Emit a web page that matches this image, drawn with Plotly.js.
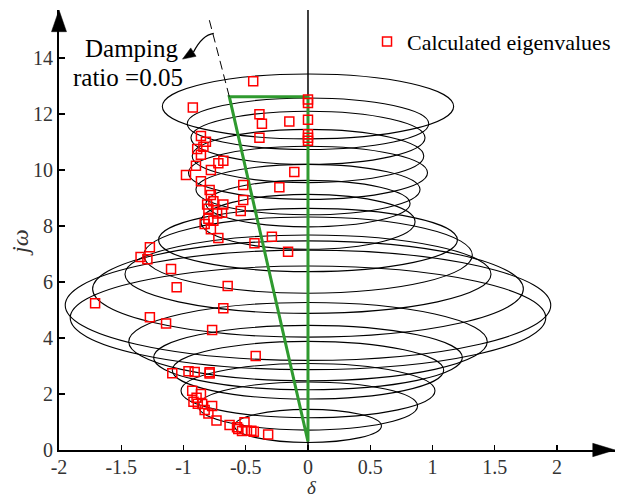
<!DOCTYPE html>
<html>
<head>
<meta charset="utf-8">
<script src="https://cdn.plot.ly/plotly-3.0.1.min.js"></script>
<style>html,body{margin:0;padding:0;background:#fff;}#chart{width:629px;height:501px;}</style>
</head>
<body>
<div id="chart"></div>
<script>
// ---- Data ----
// Calculated eigenvalues (real part delta, imaginary part j-omega)
const EIG_DELTA = [
  -0.44, -0.925, 0, 0, -0.39, -0.37, -0.15, 0, -0.39, 0, 0, 0,
  -0.86, -0.82, -0.84, -0.89, -0.86, -0.72, -0.68, -0.90, -0.78, -0.98, -0.11, -0.86, -0.52, -0.23,
  -0.79, -0.78, -0.52, -0.76, -0.81, -0.68, -0.80, -0.54, -0.69, -0.73, -0.80, -0.76, -0.83, -0.78, -0.72,
  -0.29, -0.43, -0.16, -1.27, -1.345, -1.29, -1.10, -1.055, -0.645, -1.71, -0.68, -1.27, -1.14, -0.77, -0.42,
  -1.09, -0.96, -0.91, -0.79, -0.79, -0.93, -0.86, -0.895, -0.92, -0.885, -0.85, -0.77, -0.83, -0.80,
  -0.735, -0.63, -0.57, -0.56, -0.51, -0.53, -0.49, -0.455, -0.435, -0.32
];
const EIG_OMEGA = [
  13.17, 12.23, 12.52, 12.39, 11.99, 11.65, 11.73, 11.79, 11.15, 11.28, 11.15, 11.04,
  11.21, 11.01, 10.83, 10.75, 10.54, 10.24, 10.33, 10.15, 10.00, 9.82, 9.93, 9.60, 9.46, 9.38,
  9.29, 9.11, 8.93, 8.88, 8.77, 8.77, 8.62, 8.54, 8.47, 8.45, 8.26, 8.19, 8.07, 7.88, 7.57,
  7.62, 7.38, 7.08, 7.24, 6.89, 6.81, 6.46, 5.81, 5.86, 5.24, 5.06, 4.74, 4.52, 4.29, 3.36,
  2.74, 2.81, 2.79, 2.78, 2.73, 2.12, 2.00, 1.87, 1.72, 1.65, 1.64, 1.57, 1.43, 1.30,
  1.05, 0.89, 0.81, 0.75, 0.99, 0.68, 0.69, 0.69, 0.65, 0.55
];

// Uncertainty ellipses: centre on the j-omega axis, half-width (delta), half-height (omega)
const ELL_CENTER = [0.86, 1.57, 2.12, 2.85, 3.30, 3.87, 4.72, 5.17, 5.75, 6.28, 6.96, 7.50, 8.15, 8.80, 9.30, 9.90, 10.50, 11.15, 11.65, 12.27];
const ELL_HALF_X = [0.59, 0.88, 1.02, 1.09, 1.24, 1.44, 1.91, 1.95, 1.73, 1.47, 1.32, 1.20, 0.86, 0.82, 0.90, 0.96, 0.93, 0.94, 0.97, 1.17];
const ELL_HALF_Y = [0.59, 0.86, 0.97, 1.03, 1.15, 1.40, 1.85, 1.97, 1.72, 1.40, 1.36, 1.13, 0.98, 0.83, 0.90, 0.95, 0.95, 0.95, 0.92, 1.16];

// Damping-ratio region (green) and its dashed extension
const DAMPING_X = [0, -0.632, 0, 0];
const DAMPING_Y = [0.3, 12.62, 12.62, 0.3];
const DASH_X = [-0.632, -0.80];
const DASH_Y = [12.62, 15.48];

// Axes
const X_RANGE = [-2, 2.466];
const Y_RANGE = [0, 15.714];
const X_TICKS = [-2, -1.5, -1, -0.5, 0, 0.5, 1, 1.5, 2];
const X_TICK_TEXT = ['-2', '-1.5', '-1', '-0.5', '0', '0.5', '1', '1.5', '2'];
const Y_TICKS = [0, 2, 4, 6, 8, 10, 12, 14];
const Y_TICK_TEXT = ['0', '2', '4', '6', '8', '10', '12', '14'];

// ---- Build figure ----
const SERIF = 'Liberation Serif, Times New Roman, serif';
const shapes = [];
for (let i = 0; i < ELL_CENTER.length; i++) {
  shapes.push({
    type: 'circle', xref: 'x', yref: 'y', layer: 'below',
    x0: -ELL_HALF_X[i], x1: ELL_HALF_X[i],
    y0: ELL_CENTER[i] - ELL_HALF_Y[i], y1: ELL_CENTER[i] + ELL_HALF_Y[i],
    line: {color: '#000', width: 1.1}
  });
}
// vertical j-omega guide line at delta = 0
shapes.push({type: 'line', xref: 'x', yref: 'y', x0: 0, x1: 0, y0: Y_RANGE[0], y1: Y_RANGE[1], line: {color: '#000', width: 1.5}, layer: 'below'});
// dashed damping extension
shapes.push({type: 'line', xref: 'x', yref: 'y', x0: DASH_X[0], x1: DASH_X[1], y0: DASH_Y[0], y1: DASH_Y[1], line: {color: '#000', width: 1, dash: '9px,5px'}});
// axis arrowheads (paper coords)
shapes.push({type: 'path', xref: 'paper', yref: 'paper', path: 'M 1.0 0 L 0.96 0.0152 L 0.96 -0.0152 Z', fillcolor: '#000', line: {color: '#000', width: 0.5}});
shapes.push({type: 'path', xref: 'paper', yref: 'paper', path: 'M 0 1.0 L -0.0135 0.9507 L 0.0135 0.9507 Z', fillcolor: '#000', line: {color: '#000', width: 0.5}});
// annotation arrow: curved shaft and filled head
shapes.push({type: 'path', xref: 'x', yref: 'y', path: 'M -0.757 14.88 Q -0.85 14.82 -0.92 14.21', line: {color: '#000', width: 1.2}});
shapes.push({type: 'path', xref: 'x', yref: 'y', path: 'M -1.008 13.96 L -0.942 14.36 L -0.899 14.06 Z', fillcolor: '#000', line: {color: '#000', width: 0.5}});

const traces = [
  {
    x: DAMPING_X, y: DAMPING_Y, type: 'scatter', mode: 'lines',
    line: {color: '#2f9a2f', width: 3}, showlegend: false, hoverinfo: 'skip'
  },
  {
    x: EIG_DELTA, y: EIG_OMEGA, type: 'scatter', mode: 'markers',
    name: 'Calculated eigenvalues',
    marker: {symbol: 'square-open', size: 9, color: '#ff0000', line: {width: 1.5, color: '#ff0000'}}
  }
];

const axisCommon = {
  showgrid: false, zeroline: false, showline: true, linecolor: '#000', linewidth: 2,
  ticks: 'inside', tickcolor: '#000', tickwidth: 1.2,
  tickfont: {family: SERIF, size: 20, color: '#333'}
};

const layout = {
  width: 629, height: 501,
  margin: {l: 59, r: 14, t: 10, b: 51},
  paper_bgcolor: '#fff', plot_bgcolor: '#fff',
  xaxis: Object.assign({}, axisCommon, {range: X_RANGE, tickmode: 'array', tickvals: X_TICKS, ticktext: X_TICK_TEXT, ticklen: 5, ticklabelstandoff: -2}),
  yaxis: Object.assign({}, axisCommon, {range: Y_RANGE, tickmode: 'array', tickvals: Y_TICKS, ticktext: Y_TICK_TEXT, ticklen: 6}),
  showlegend: true,
  legend: {x: 0.554, y: 0.928, xanchor: 'left', yanchor: 'middle', bgcolor: 'rgba(0,0,0,0)', borderwidth: 0,
           font: {family: SERIF, size: 22, color: '#000'}},
  shapes: shapes,
  annotations: [
    {text: 'Damping', xref: 'paper', yref: 'paper', x: 0.1308, y: 0.9136, showarrow: false, xanchor: 'center', yanchor: 'middle', font: {family: SERIF, size: 25, color: '#000'}},
    {text: 'ratio =0.05', xref: 'paper', yref: 'paper', x: 0.1241, y: 0.8455, showarrow: false, xanchor: 'center', yanchor: 'middle', font: {family: SERIF, size: 25, color: '#000'}},
    {text: '<i>jω</i>', xref: 'paper', yref: 'paper', x: -0.0701, y: 0.4705, showarrow: false, textangle: -90, xanchor: 'center', yanchor: 'middle', font: {family: SERIF, size: 24, color: '#333'}},
    {text: '<i>δ</i>', xref: 'paper', yref: 'paper', x: 0.4545, y: -0.1136, showarrow: false, xanchor: 'center', yanchor: 'bottom', font: {family: SERIF, size: 19, color: '#333'}}
  ]
};

Plotly.newPlot('chart', traces, layout, {displayModeBar: false, staticPlot: true});
</script>
</body>
</html>
